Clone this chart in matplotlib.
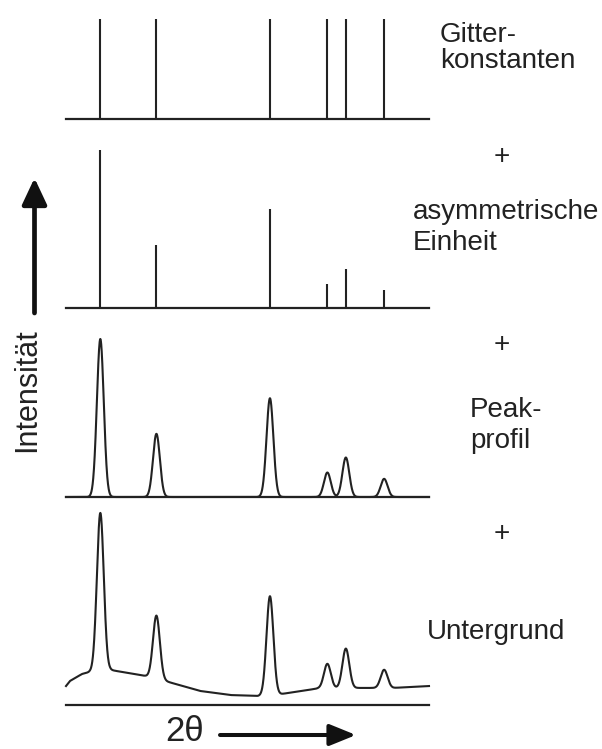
import numpy as np
import matplotlib

matplotlib.use("Agg")
import matplotlib.pyplot as plt
from matplotlib.patches import FancyArrowPatch

# reflection positions (2theta, deg) and relative intensities
two_theta = [10.2, 18.7, 35.9, 44.6, 47.4, 53.2]
intensity = [100, 40, 62.5, 15.5, 25, 11.5]
peak_sigma = 0.52

# background control points
bg_theta = [5.0, 5.6, 6.4, 7.4, 8.6, 11.7, 17.0, 20.0, 25.3, 29.9, 34.1, 37.7, 43.2, 49.2, 52.1, 54.5, 60.0]
bg_level = [12.0, 15.2, 17.1, 19.6, 20.9, 22.2, 18.4, 15.2, 8.9, 6.3, 5.7, 7.0, 10.5, 10.8, 10.8, 10.8, 12.0]

W, H = 602, 749
ink = "#222222"
plt.rcParams["font.family"] = ["Liberation Sans", "DejaVu Sans"]

fig = plt.figure(figsize=(W / 100, H / 100), dpi=100, facecolor="white")


def panel(bottom_px, height_px, ymax):
    ax = fig.add_axes([66 / W, 1 - bottom_px / H, 363 / W, height_px / H])
    ax.set_xlim(5, 60)
    ax.set_ylim(0, ymax)
    for s in ("top", "right", "left"):
        ax.spines[s].set_visible(False)
    ax.spines["bottom"].set_linewidth(1.6)
    ax.spines["bottom"].set_color(ink)
    ax.set_xticks([])
    ax.set_yticks([])
    ax.patch.set_alpha(0)
    return ax


def profile(x):
    y = np.zeros_like(x)
    for pos, inten in zip(two_theta, intensity):
        y += inten * np.exp(-0.5 * ((x - pos) / peak_sigma) ** 2)
    return y


px_per_unit = 1.58

# lattice constants: positions only
ax1 = panel(119, 100, 1)
ax1.vlines(two_theta, 0, 1, color=ink, lw=1.5, clip_on=False)

# asymmetric unit: intensities
ax2 = panel(308, 100 * px_per_unit, 100)
ax2.vlines(two_theta, 0, intensity, color=ink, lw=1.5, clip_on=False)

x = np.linspace(5, 60, 3000)

# peak profile
ax3 = panel(497, 100 * px_per_unit, 100)
ax3.plot(x, profile(x), color=ink, lw=1.5, clip_on=False)

# background
ax4 = panel(705, 125 * px_per_unit, 125)
bg = np.interp(x, bg_theta, bg_level)
ax4.plot(x, profile(x) + bg, color=ink, lw=1.5, clip_on=False)


def ftext(xp, yp, s, **kw):
    fig.text(xp / W, 1 - yp / H, s, **kw)


fs = 20
ftext(440, 42, "Gitter-", fontsize=fs, va="baseline", color=ink)
ftext(440, 68, "konstanten", fontsize=fs, va="baseline", color=ink)
ftext(502, 164, "+", fontsize=fs, va="baseline", ha="center", color=ink)
ftext(413, 219, "asymmetrische", fontsize=fs, va="baseline", color=ink)
ftext(413, 250, "Einheit", fontsize=fs, va="baseline", color=ink)
ftext(502, 352, "+", fontsize=fs, va="baseline", ha="center", color=ink)
ftext(470, 417, "Peak-", fontsize=fs, va="baseline", color=ink)
ftext(470, 448, "profil", fontsize=fs, va="baseline", color=ink)
ftext(502, 541, "+", fontsize=fs, va="baseline", ha="center", color=ink)
ftext(427, 639, "Untergrund", fontsize=fs, va="baseline", color=ink)
ftext(27, 390, "Intensität", fontsize=22, rotation=90, ha="center", va="center", color=ink)
ftext(165, 748, "2θ", fontsize=25, va="bottom", color=ink)

up = FancyArrowPatch((34.5 / W, 1 - 313 / H), (34.5 / W, 1 - 178 / H),
                     transform=fig.transFigure, arrowstyle="-|>,head_length=16,head_width=7.5",
                     mutation_scale=1, lw=3.4, color="#111111", shrinkA=0, shrinkB=0)
right = FancyArrowPatch((220 / W, 1 - 735 / H), (356 / W, 1 - 735 / H),
                        transform=fig.transFigure, arrowstyle="-|>,head_length=16,head_width=6.5",
                        mutation_scale=1, lw=2.9, color="#111111", shrinkA=0, shrinkB=0)
fig.patches.extend([up, right])

fig.savefig("out.png", dpi=100, facecolor="white")
